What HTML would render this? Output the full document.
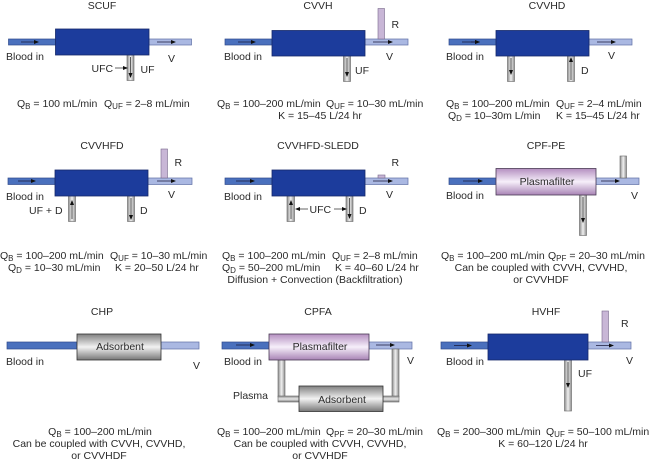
<!DOCTYPE html>
<html><head><meta charset="utf-8"><title>CRRT modalities</title>
<style>
html,body{margin:0;padding:0;background:#fff;width:650px;height:461px;overflow:hidden}
svg{display:block}
text{font-family:"Liberation Sans",sans-serif;font-size:10.5px;fill:#2a2a2a}
.m{text-anchor:middle}
.in{fill:#4a70bd;stroke:#2f4a8c;stroke-width:.7}
.out{fill:#aab8e2;stroke:#5f6fa5;stroke-width:.7}
.blk{fill:#1c3c9c;stroke:#16286a;stroke-width:.8}
.r{fill:#c8b6d6;stroke:#77688a;stroke-width:.6}
.g{fill:url(#gt);stroke:#666;stroke-width:.6}
.gh{fill:url(#gh);stroke:#666;stroke-width:.6}
.pf{fill:url(#pf);stroke:#4a3a55;stroke-width:.8}
.ad{fill:url(#ad);stroke:#333;stroke-width:.8}
.a{stroke:#1a1a3a;stroke-width:.8;fill:none;marker-end:url(#ah)}
.t{stroke:#222;stroke-width:.7;fill:none;marker-end:url(#ah)}
</style></head><body>
<svg width="650" height="461" viewBox="0 0 650 461" xmlns="http://www.w3.org/2000/svg">
<defs>
<linearGradient id="gt" x1="0" x2="1" y1="0" y2="0"><stop offset="0" stop-color="#8d8d8d"/><stop offset=".5" stop-color="#f0f0f0"/><stop offset="1" stop-color="#8d8d8d"/></linearGradient>
<linearGradient id="gh" x1="0" x2="0" y1="0" y2="1"><stop offset="0" stop-color="#8d8d8d"/><stop offset=".5" stop-color="#e8e8e8"/><stop offset="1" stop-color="#7d7d7d"/></linearGradient>
<linearGradient id="pf" x1="0" x2="0" y1="0" y2="1"><stop offset="0" stop-color="#b48fc0"/><stop offset=".5" stop-color="#f6effa"/><stop offset="1" stop-color="#a883b5"/></linearGradient>
<linearGradient id="ad" x1="0" x2="0" y1="0" y2="1"><stop offset="0" stop-color="#808080"/><stop offset=".5" stop-color="#f2f2f2"/><stop offset="1" stop-color="#777"/></linearGradient>
<marker id="ah" markerWidth="5" markerHeight="4" refX="4" refY="2" orient="auto" markerUnits="userSpaceOnUse"><path d="M0,0L5,2L0,4Z" fill="#111"/></marker>
</defs>

<!-- SCUF -->
<text class="m" x="102" y="9">SCUF</text>
<rect class="in" x="8.5" y="39" width="47" height="6"/><rect class="out" x="149" y="39" width="42.5" height="6"/>
<rect class="g" x="127" y="55" width="7" height="25.5"/>
<rect class="blk" x="55.5" y="29" width="93.5" height="26"/>
<path class="a" d="M21 42H38"/><path class="a" d="M157 42H175"/><path class="t" d="M130.5 57V77"/><path class="t" d="M115 68H127"/>
<text x="6" y="60">Blood in</text><text x="168" y="62">V</text><text x="91.5" y="72">UFC</text><text x="140.500" y="73">UF</text>
<text x="17" y="107">Q<tspan dy="2" font-size="8">B</tspan><tspan dy="-2"> = 100 mL/min</tspan></text>
<text x="104" y="107">Q<tspan dy="2" font-size="8">UF</tspan><tspan dy="-2"> = 2–8 mL/min</tspan></text>

<!-- CVVH -->
<text class="m" x="318" y="9">CVVH</text>
<rect class="in" x="225" y="39" width="47" height="6"/><rect class="out" x="365" y="39" width="43" height="6"/>
<rect class="r" x="378" y="8.500" width="6.500" height="30.500"/>
<rect class="g" x="343.500" y="56" width="7" height="25.500"/>
<rect class="blk" x="272" y="30.500" width="93" height="25.500"/>
<path class="a" d="M238 42H255"/><path class="a" d="M373 42H392"/><path class="t" d="M347 58V76"/>
<text x="224" y="60">Blood in</text><text x="386" y="60">V</text><text x="391.500" y="28">R</text><text x="355" y="74">UF</text>
<text x="217" y="107">Q<tspan dy="2" font-size="8">B</tspan><tspan dy="-2"> = 100–200 mL/min</tspan></text>
<text x="326" y="107">Q<tspan dy="2" font-size="8">UF</tspan><tspan dy="-2"> = 10–30 mL/min</tspan></text>
<text class="m" x="320" y="119">K = 15–45 L/24 hr</text>

<!-- CVVHD -->
<text class="m" x="547" y="9">CVVHD</text>
<rect class="in" x="449" y="39" width="47" height="6"/><rect class="out" x="589" y="39" width="43" height="6"/>
<rect class="g" x="507.500" y="56" width="7" height="25.500"/><rect class="g" x="567.500" y="56" width="7" height="25.500"/>
<rect class="blk" x="496" y="30.500" width="93" height="25.500"/>
<path class="a" d="M471 42H479"/><path class="a" d="M462 42H479"/><path class="a" d="M597 42H615"/><path class="t" d="M511 58V74"/><path class="t" d="M571 80V58"/>
<text x="446" y="60">Blood in</text><text x="608" y="59">V</text><text x="581" y="74">D</text>
<text x="446" y="107">Q<tspan dy="2" font-size="8">B</tspan><tspan dy="-2"> = 100–200 mL/min</tspan></text>
<text x="556" y="107">Q<tspan dy="2" font-size="8">UF</tspan><tspan dy="-2"> = 2–4 mL/min</tspan></text>
<text x="448" y="119">Q<tspan dy="2" font-size="8">D</tspan><tspan dy="-2"> = 10–30m L/min</tspan></text>
<text x="556" y="119">K = 15–45 L/24 hr</text>

<!-- CVVHFD -->
<text class="m" x="102" y="149">CVVHFD</text>
<rect class="in" x="8" y="178" width="47" height="6.500"/><rect class="out" x="148" y="178" width="44" height="6.500"/>
<rect class="r" x="161" y="149" width="6.500" height="29"/>
<rect class="g" x="68.500" y="196" width="7" height="25.500"/><rect class="g" x="127.500" y="196" width="7" height="25.500"/>
<rect class="blk" x="55" y="170" width="93" height="26"/>
<path class="a" d="M18 181H35"/><path class="a" d="M157 181H175"/><path class="t" d="M72 219V201"/><path class="t" d="M131 198V219"/>
<text x="6" y="200">Blood in</text><text x="168" y="198">V</text><text x="174.500" y="166">R</text><text x="29" y="214">UF + D</text><text x="140" y="214">D</text>
<text x="0" y="259">Q<tspan dy="2" font-size="8">B</tspan><tspan dy="-2"> = 100–200 mL/min</tspan></text>
<text x="110" y="259">Q<tspan dy="2" font-size="8">UF</tspan><tspan dy="-2"> = 10–30 mL/min</tspan></text>
<text x="8" y="271">Q<tspan dy="2" font-size="8">D</tspan><tspan dy="-2"> = 10–30 mL/min</tspan></text>
<text x="115" y="271">K = 20–50 L/24 hr</text>

<!-- CVVHFD-SLEDD -->
<text class="m" x="318" y="149">CVVHFD-SLEDD</text>
<rect class="in" x="225" y="178" width="47" height="6.500"/><rect class="out" x="365" y="178" width="43" height="6.500"/>
<rect class="r" x="378" y="175" width="7" height="3"/>
<rect class="g" x="287" y="196" width="7.500" height="25.500"/><rect class="g" x="346" y="196" width="7" height="25.500"/>
<rect class="blk" x="272" y="170" width="93" height="26"/>
<path class="a" d="M236 181H254"/><path class="a" d="M373 181H392"/><path class="t" d="M291 219V201"/><path class="t" d="M349.500 198V218"/><path class="t" d="M308 209H296"/><path class="t" d="M334 209H346"/>
<text x="224" y="200">Blood in</text><text x="386" y="198">V</text><text x="391.500" y="166">R</text><text x="309.500" y="213">UFC</text><text x="359" y="214">D</text>
<text x="222" y="259">Q<tspan dy="2" font-size="8">B</tspan><tspan dy="-2"> = 100–200 mL/min</tspan></text>
<text x="332" y="259">Q<tspan dy="2" font-size="8">UF</tspan><tspan dy="-2"> = 2–8 mL/min</tspan></text>
<text x="222" y="271">Q<tspan dy="2" font-size="8">D</tspan><tspan dy="-2"> = 50–200 mL/min</tspan></text>
<text x="335" y="271">K = 40–60 L/24 hr</text>
<text class="m" x="315" y="283">Diffusion + Convection (Backfiltration)</text>

<!-- CPF-PE -->
<text class="m" x="546" y="149">CPF-PE</text>
<rect class="in" x="449" y="178" width="47" height="6.500"/><rect class="out" x="596" y="178" width="43" height="6.500"/>
<rect class="g" x="620" y="156" width="6.500" height="22"/>
<rect class="g" x="579.500" y="195" width="7" height="40.500"/>
<rect class="pf" x="496" y="168.500" width="100" height="26.500"/>
<path class="a" d="M463 181H482"/><path class="a" d="M601 181H619"/><path class="t" d="M583 197V222"/>
<text class="m" x="547" y="185">Plasmafilter</text>
<text x="446" y="199">Blood in</text><text x="631" y="199">V</text>
<text x="441" y="259">Q<tspan dy="2" font-size="8">B</tspan><tspan dy="-2"> = 100–200 mL/min</tspan></text>
<text x="548" y="259">Q<tspan dy="2" font-size="8">PF</tspan><tspan dy="-2"> = 20–30 mL/min</tspan></text>
<text class="m" x="541" y="271">Can be coupled with CVVH, CVVHD,</text>
<text class="m" x="541" y="283">or CVVHDF</text>

<!-- CHP -->
<text class="m" x="102" y="315">CHP</text>
<rect class="in" x="7" y="342" width="70" height="7"/><rect class="out" x="161" y="342" width="38" height="7"/>
<rect class="ad" x="77" y="334" width="84" height="26"/>
<text class="m" x="120" y="350">Adsorbent</text>
<text x="6" y="365">Blood in</text><text x="193" y="369">V</text>
<text class="m" x="100" y="435">Q<tspan dy="2" font-size="8">B</tspan><tspan dy="-2"> = 100–200 mL/min</tspan></text>
<text class="m" x="99" y="447">Can be coupled with CVVH, CVVHD,</text>
<text class="m" x="99" y="459">or CVVHDF</text>

<!-- CPFA -->
<text class="m" x="318" y="315">CPFA</text>
<rect class="in" x="222" y="342" width="47" height="7"/><rect class="out" x="369" y="342" width="43" height="7"/>
<rect class="g" x="278" y="360" width="7" height="37"/><rect class="g" x="392" y="349" width="7" height="48"/>
<rect class="gh" x="278" y="396" width="21" height="6"/><rect class="gh" x="383" y="396" width="16" height="6"/>
<rect class="pf" x="269" y="334" width="100" height="26"/>
<rect class="ad" x="299" y="386" width="84" height="25.500"/>
<path class="a" d="M236 345H254"/><path class="a" d="M376 345H394"/>
<text class="m" x="320" y="350">Plasmafilter</text><text class="m" x="342" y="403">Adsorbent</text>
<text x="224" y="365">Blood in</text><text x="233" y="399">Plasma</text><text x="407" y="364">V</text>
<text x="217" y="435">Q<tspan dy="2" font-size="8">B</tspan><tspan dy="-2"> = 100–200 mL/min</tspan></text>
<text x="326" y="435">Q<tspan dy="2" font-size="8">PF</tspan><tspan dy="-2"> = 20–30 mL/min</tspan></text>
<text class="m" x="320" y="447">Can be coupled with CVVH, CVVHD,</text>
<text class="m" x="320" y="459">or CVVHDF</text>

<!-- HVHF -->
<text class="m" x="546" y="315">HVHF</text>
<rect class="in" x="441" y="342" width="47" height="7"/><rect class="out" x="588" y="342" width="43" height="7"/>
<rect class="r" x="602" y="311" width="6.500" height="31"/>
<rect class="g" x="564.500" y="360" width="7" height="51"/>
<rect class="blk" x="488" y="334" width="100" height="26"/>
<path class="a" d="M454 345.500H471"/><path class="a" d="M596 345.500H613"/><path class="t" d="M568 362V387"/>
<text x="446" y="365">Blood in</text><text x="626" y="364">V</text><text x="621" y="327">R</text><text x="578" y="377">UF</text>
<text x="437" y="435">Q<tspan dy="2" font-size="8">B</tspan><tspan dy="-2"> = 200–300 mL/min</tspan></text>
<text x="546" y="435">Q<tspan dy="2" font-size="8">UF</tspan><tspan dy="-2"> = 50–100 mL/min</tspan></text>
<text class="m" x="543" y="447">K = 60–120 L/24 hr</text>
</svg>
</body></html>
